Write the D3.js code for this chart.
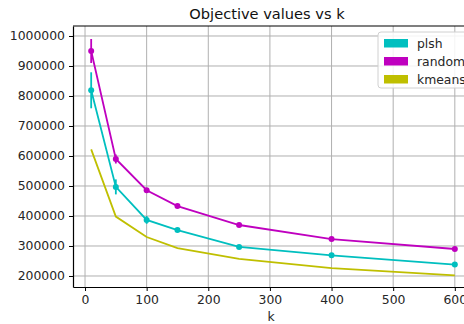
<!DOCTYPE html>
<html>
<head>
<meta charset="utf-8">
<script src="https://cdn.jsdelivr.net/npm/d3@7"></script>
<style>
  body { margin: 0; background: #fff; }
  svg { font-family: "DejaVu Sans", sans-serif; }
</style>
</head>
<body>
<svg id="chart" width="464" height="324"></svg>
<script>
// data
let ks = [10, 50, 100, 150, 250, 400, 600];
let plsh = [819000, 497000, 387000, 353000, 297000, 269000, 238000];
let plshErr = [60000, 25000, 13000, 4000, 3000, 3000, 3000];
let random = [950000, 590000, 486000, 433000, 370000, 323000, 290000];
let randomErr = [40000, 15000, 4000, 3000, 3000, 3000, 3000];
let kmeans = [622000, 398000, 330000, 293000, 257000, 226000, 202000];
let xTicks = [0, 100, 200, 300, 400, 500, 600];
let yTicks = [200000, 300000, 400000, 500000, 600000, 700000, 800000, 900000, 1000000];

let series = [
  { name: "plsh", values: plsh, err: plshErr, color: "#00bfbf", marker: true },
  { name: "random", values: random, err: randomErr, color: "#bf00bf", marker: true },
  { name: "kmeans", values: kmeans, err: null, color: "#bfbf00", marker: false },
];

let margin = { top: 26, left: 73, bottom: 37 },
  width = 400,
  height = 324 - margin.top - margin.bottom;

let svg = d3.select("#chart");
let g = svg.append("g").attr("transform", "translate(" + margin.left + "," + margin.top + ")");

let x = d3.scaleLinear().domain([-19.5, 629.5]).range([0, width]);
let y = d3.scaleLinear().domain([163333, 1033333]).range([height, 0]);

// grid
g.selectAll(".vgrid").data(xTicks).enter().append("line")
  .attr("x1", d => x(d)).attr("x2", d => x(d))
  .attr("y1", 0).attr("y2", height)
  .attr("stroke", "#b0b0b0").attr("stroke-width", 1);
g.selectAll(".hgrid").data(yTicks).enter().append("line")
  .attr("x1", 0).attr("x2", width)
  .attr("y1", d => y(d)).attr("y2", d => y(d))
  .attr("stroke", "#b0b0b0").attr("stroke-width", 1);

// lines, error bars, markers
series.forEach(s => {
  let pts = ks.map((k, i) => ({ k: k, v: s.values[i], e: s.err ? s.err[i] : 0 }));
  let line = d3.line().x(d => x(d.k)).y(d => y(d.v));
  g.append("path").datum(pts)
    .attr("fill", "none").attr("stroke", s.color).attr("stroke-width", 1.8)
    .attr("d", line);
  if (s.err) {
    g.selectAll(null).data(pts).enter().append("line")
      .attr("x1", d => x(d.k)).attr("x2", d => x(d.k))
      .attr("y1", d => y(d.v - d.e)).attr("y2", d => y(d.v + d.e))
      .attr("stroke", s.color).attr("stroke-width", 1.8);
  }
  if (s.marker) {
    g.selectAll(null).data(pts).enter().append("circle")
      .attr("cx", d => x(d.k)).attr("cy", d => y(d.v))
      .attr("r", 3).attr("fill", s.color);
  }
});

// axes
let xAxis = g.append("g").attr("transform", "translate(0," + height + ")")
  .call(d3.axisBottom(x).tickValues(xTicks).tickSize(4).tickPadding(4).tickSizeOuter(0));
let yAxis = g.append("g")
  .call(d3.axisLeft(y).tickValues(yTicks).tickSize(4).tickPadding(4).tickSizeOuter(0).tickFormat(d3.format("d")));
[xAxis, yAxis].forEach(a => {
  a.select(".domain").attr("stroke", "#000").attr("stroke-width", 1.2);
  a.selectAll(".tick line").attr("stroke", "#000");
  a.selectAll(".tick text").attr("fill", "#262626").style("font-size", "12.4px").style("font-family", "DejaVu Sans");
});
g.append("line").attr("x1", 0).attr("x2", width).attr("y1", 0).attr("y2", 0)
  .attr("stroke", "#000").attr("stroke-width", 1.2);

// labels
svg.append("text").attr("x", 267).attr("y", 19).attr("text-anchor", "middle")
  .style("font-size", "14.6px").attr("fill", "#111").text("Objective values vs k");
svg.append("text").attr("x", 271).attr("y", 321).attr("text-anchor", "middle")
  .style("font-size", "12.4px").attr("fill", "#262626").text("k");

// legend
let leg = svg.append("g").attr("transform", "translate(378,32)");
leg.append("rect").attr("width", 100).attr("height", 56).attr("rx", 3)
  .attr("fill", "#fff").attr("fill-opacity", 0.85).attr("stroke", "#d0d0d0");
series.forEach((s, i) => {
  leg.append("rect").attr("x", 6).attr("y", 7 + i * 18).attr("width", 24).attr("height", 8.5).attr("fill", s.color);
  leg.append("text").attr("x", 39).attr("y", 15.5 + i * 18)
    .style("font-size", "12.4px").attr("fill", "#262626").text(s.name);
});
</script>
</body>
</html>
